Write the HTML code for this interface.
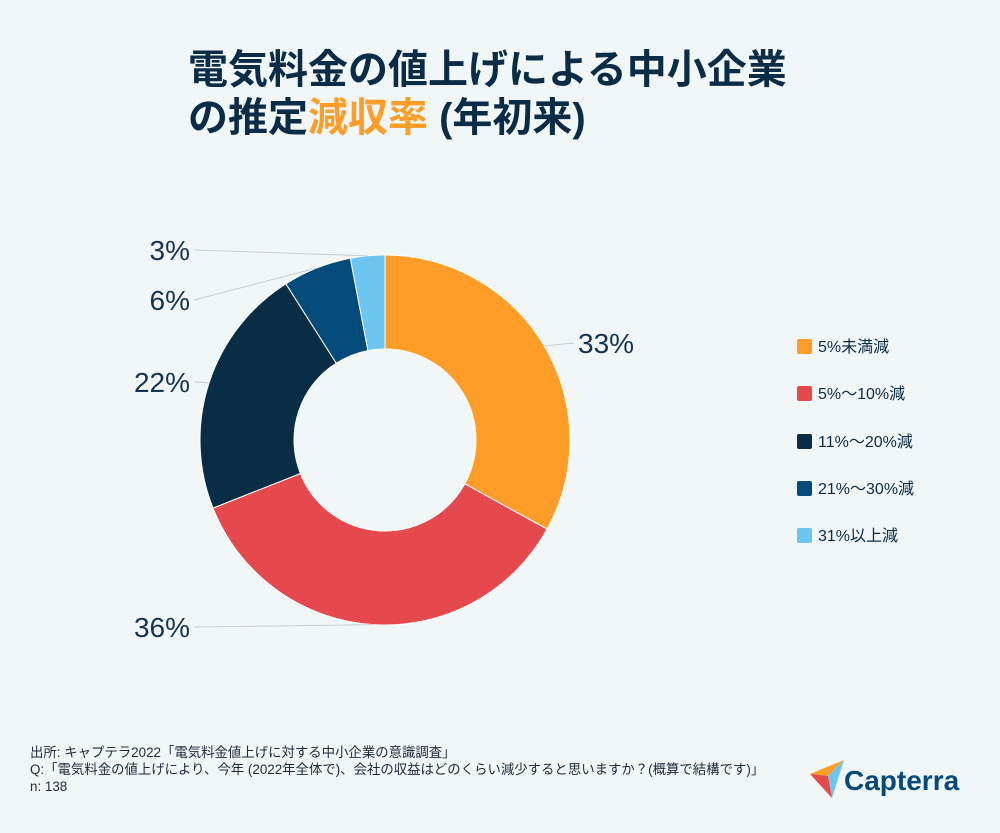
<!DOCTYPE html>
<html><head><meta charset="utf-8"><style>
body{margin:0;width:1000px;height:833px;background:#f1f6f7;font-family:"Liberation Sans","Noto Sans CJK JP",sans-serif;overflow:hidden;position:relative}
.t{position:absolute;left:188px;font-weight:bold;font-size:40px;color:#0b2c47;line-height:48px}
.lg{position:absolute;left:797px;font-size:16px;color:#0b2c47}
.lg span{display:inline-block;width:15px;height:15px;vertical-align:-2px;margin-right:6px;border-radius:2px}
.ft{position:absolute;left:30px;font-size:13.4px;color:#1b2b3c;line-height:17px;top:744px}
</style></head><body>
<div class="t" style="top:46px">電気料金の値上げによる中小企業<br>の推定<span style="color:#ff9d28">減収率</span> (年初来)</div>
<svg id="c" width="1000" height="833" style="position:absolute;left:0;top:0"></svg>
<div id="leg"></div>
<div class="ft">出所: キャプテラ2022「電気料金値上げに対する中小企業の意識調査」<br>Q:「電気料金の値上げにより、今年 (2022年全体で)、会社の収益はどのくらい減少すると思いますか？(概算で結構です)」<br>n: 138</div>
<div style="position:absolute;left:810px;top:760px;font-size:28px;font-weight:bold;color:#044a7a">
<svg width="34" height="38" style="vertical-align:-8px"><polygon points="0,14 34,0 18,16" fill="#ff9d28"/><polygon points="18,16 34,0 22,38" fill="#6cc6ef"/><polygon points="0,14 18,16 22,38" fill="#e5484d"/></svg>Capterra</div>
<script>
const categories=["5%未満減","5%〜10%減","11%〜20%減","21%〜30%減","31%以上減"];
const values=[33,36,22,6,3];
const labels=["33%","36%","22%","6%","3%"];
const colors=["#ff9d28","#e5484d","#082d45","#044a7a","#6cc6ef"];
const svg=document.getElementById('c');const NS="http://www.w3.org/2000/svg";
const cx=385,cy=440,R=185,r=91;
const total=values.reduce((a,b)=>a+b,0);
function pt(a,rad){return [cx+rad*Math.sin(a),cy-rad*Math.cos(a)];}
let acc=0;
const labelPos=[[578,353,'start'],[190,637,'end'],[190,392,'end'],[190,310,'end'],[190,260,'end']];
values.forEach((v,i)=>{
 const a0=acc/total*2*Math.PI;acc+=v;const a1=acc/total*2*Math.PI;
 const lg=(a1-a0)>Math.PI?1:0;
 const p0=pt(a0,R),p1=pt(a1,R),q1=pt(a1,r),q0=pt(a0,r);
 const p=document.createElementNS(NS,'path');
 p.setAttribute('d',`M${p0}A${R},${R} 0 ${lg} 1 ${p1}L${q1}A${r},${r} 0 ${lg} 0 ${q0}Z`);
 p.setAttribute('fill',colors[i]);p.setAttribute('stroke','#fff');p.setAttribute('stroke-width','1');
 
 
 svg.appendChild(p);
 const m=pt((a0+a1)/2,R);const lp=labelPos[i];
 const ln=document.createElementNS(NS,'line');
 const lx=lp[2]=='start'?lp[0]-4:lp[0]+4;
 ln.setAttribute('x1',m[0]);ln.setAttribute('y1',m[1]);ln.setAttribute('x2',lx);ln.setAttribute('y2',lp[1]-10);
 ln.setAttribute('stroke','#c8cfd4');ln.setAttribute('stroke-width','1');
 
 
 svg.appendChild(ln);
 const t=document.createElementNS(NS,'text');
 t.setAttribute('x',lp[0]);t.setAttribute('y',lp[1]);t.setAttribute('text-anchor',lp[2]);
 t.setAttribute('font-size','28');t.setAttribute('fill','#163352');
 t.setAttribute('font-family','"Liberation Sans",sans-serif');t.textContent=labels[i];
 
 
 svg.appendChild(t);
});
const leg=document.getElementById('leg');
categories.forEach((c,i)=>{
 const d=document.createElement('div');d.className='lg';d.style.top=(333+i*47.3)+'px';
 d.innerHTML=`<span style="background:${colors[i]}"></span>${c}`;
 
 
 leg.appendChild(d);
});
</script>
</body></html>
